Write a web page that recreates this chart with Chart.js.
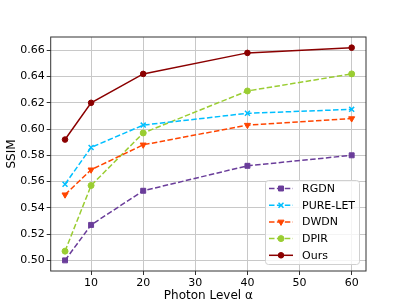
<!DOCTYPE html>
<html>
<head>
<meta charset="utf-8">
<script src="https://cdn.jsdelivr.net/npm/chart.js@4/dist/chart.umd.min.js"></script>
<style>
  html, body { margin: 0; padding: 0; background: #fff; }
  #wrap { width: 407px; height: 305px; }
</style>
</head>
<body>
<div id="wrap"><canvas id="chart"></canvas></div>
<script>
// photon levels (x) and SSIM per method
var photonLevels = [5, 10, 20, 40, 60];
var rgdn    = [0.500, 0.527, 0.553, 0.572, 0.580];
var pureLet = [0.558, 0.586, 0.603, 0.612, 0.615];
var dwdn    = [0.550, 0.569, 0.588, 0.603, 0.608];
var dpir    = [0.507, 0.557, 0.597, 0.629, 0.642];
var ours    = [0.592, 0.620, 0.642, 0.658, 0.662];
var xTicks = [10, 20, 30, 40, 50, 60];
var yTicks = [0.50, 0.52, 0.54, 0.56, 0.58, 0.60, 0.62, 0.64, 0.66];

var FONT = "'DejaVu Sans', sans-serif";

function pts(values) {
  return photonLevels.map(function (x, i) { return { x: x, y: values[i] }; });
}

function series(label, values, color, style, radius, dashed, rotation) {
  return {
    label: label,
    data: pts(values),
    borderColor: color,
    backgroundColor: color,
    pointBackgroundColor: color,
    pointBorderColor: color,
    borderWidth: 1.5,
    borderDash: dashed ? [5.5, 2.4] : [],
    pointStyle: style,
    pointRadius: radius,
    pointBorderWidth: style === 'crossRot' ? 1.5 : 1,
    pointRotation: rotation || 0,
    tension: 0
  };
}

var datasets = [
  series('RGDN', rgdn, '#6a3d9a', 'rect', 3.5, true),
  series('PURE-LET', pureLet, '#00bfff', 'crossRot', 3.5, true),
  series('DWDN', dwdn, '#ff4500', 'triangle', 3.5, true, 180),
  series('DPIR', dpir, '#9acd32', 'circle', 3, true),
  series('Ours', ours, '#8b0000', 'circle', 2.8, false)
];

// axes frame + legend box inside plot
var framePlugin = {
  id: 'frame',
  afterDraw: function (chart) {
    var ctx = chart.ctx, a = chart.chartArea;
    ctx.save();
    ctx.strokeStyle = '#333';
    ctx.lineWidth = 1;
    ctx.strokeRect(a.left, a.top, a.right - a.left, a.bottom - a.top);

    // legend
    var bx = 265.5, by = 180.5, bw = 94, bh = 84;
    ctx.fillStyle = 'rgba(255,255,255,0.8)';
    ctx.strokeStyle = '#d0d0d0';
    ctx.beginPath();
    ctx.roundRect(bx, by, bw, bh, 3);
    ctx.fill();
    ctx.stroke();

    ctx.font = '11px ' + FONT;
    ctx.textBaseline = 'middle';
    chart.data.datasets.forEach(function (ds, i) {
      var y = 188.5 + i * 16.7;
      ctx.strokeStyle = ds.borderColor;
      ctx.lineWidth = 1.5;
      ctx.setLineDash(ds.borderDash);
      ctx.beginPath();
      ctx.moveTo(269, y);
      ctx.lineTo(293, y);
      ctx.stroke();
      ctx.setLineDash([]);
      ctx.fillStyle = ds.pointBackgroundColor;
      ctx.strokeStyle = ds.pointBorderColor;
      ctx.lineWidth = ds.pointBorderWidth;
      Chart.helpers.drawPoint(ctx, {
        pointStyle: ds.pointStyle,
        radius: ds.pointRadius,
        rotation: ds.pointRotation,
        borderWidth: ds.pointBorderWidth
      }, 281, y);
      ctx.fillStyle = '#000';
      ctx.fillText(ds.label, 302, y + 0.5);
    });
    ctx.restore();
  }
};

new Chart(document.getElementById('chart'), {
  type: 'line',
  data: { datasets: datasets },
  plugins: [framePlugin],
  options: {
    responsive: true,
    maintainAspectRatio: false,
    animation: false,
    layout: { padding: { top: 37, right: 41, left: 0, bottom: 0 } },
    plugins: {
      legend: { display: false },
      tooltip: { enabled: false }
    },
    scales: {
      x: {
        type: 'linear',
        min: 2.25,
        max: 62.75,
        afterBuildTicks: function (s) { s.ticks = xTicks.map(function (v) { return { value: v }; }); },
        afterFit: function (s) { s.height = 34; },
        grid: { color: '#c8c8c8', tickColor: '#333', tickLength: 4, lineWidth: 1 },
        border: { display: false },
        ticks: { color: '#000', font: { family: FONT, size: 11 }, padding: 2, maxRotation: 0 },
        title: { display: true, text: 'Photon Level α', color: '#000', font: { family: FONT, size: 12 }, padding: { top: 0, bottom: 2 } }
      },
      y: {
        min: 0.4919,
        max: 0.6701,
        afterBuildTicks: function (s) { s.ticks = yTicks.map(function (v) { return { value: v }; }); },
        afterFit: function (s) { s.width = 50.7; },
        grid: { color: '#c8c8c8', tickColor: '#333', tickLength: 4, lineWidth: 1 },
        border: { display: false },
        ticks: {
          color: '#000', font: { family: FONT, size: 11 }, padding: 2,
          callback: function (v) { return v.toFixed(2); }
        },
        title: { display: true, text: 'SSIM', color: '#000', font: { family: FONT, size: 12 }, padding: { top: 5, bottom: 2 } }
      }
    }
  }
});
</script>
</body>
</html>
